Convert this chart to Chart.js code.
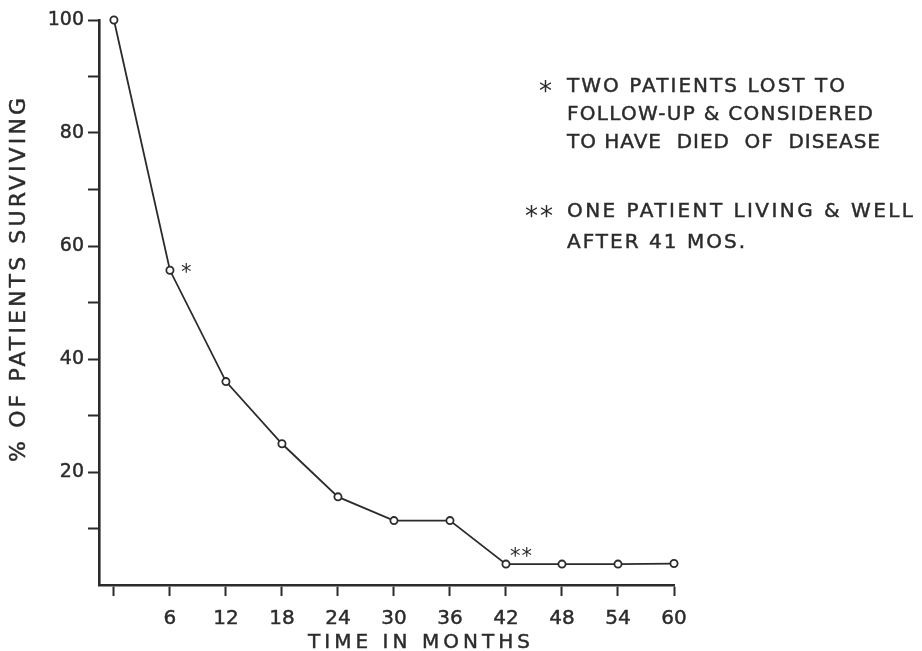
<!DOCTYPE html>
<html lang="en">
<head>
  <meta charset="UTF-8">
  <script src="https://cdn.jsdelivr.net/npm/chart.js"></script>
  <title>Survival</title>
  <style>
    body{margin: 0; background: #fff;}
    #wrap{width: 922px; height: 651px;}
  </style>
</head>
<body>
  <div id="wrap">
    <canvas id="myChart" width="922" height="651"></canvas>
  </div>
  <script>
    // data
    const months = [0, 6, 12, 18, 24, 30, 36, 42, 48, 54, 60];
    const surviving = [100, 55.7, 36, 25, 15.6, 11.4, 11.4, 3.7, 3.7, 3.7, 3.8];
    const xTicks = [0, 6, 12, 18, 24, 30, 36, 42, 48, 54, 60];
    const xLabelled = [6, 12, 18, 24, 30, 36, 42, 48, 54, 60];
    const yTicks = [10, 20, 30, 40, 50, 60, 70, 80, 90, 100];
    const yLabelled = [20, 40, 60, 80, 100];
    const xTitle = "TIME IN MONTHS";
    const yTitle = "% OF PATIENTS SURVIVING";
    const note1 = ["TWO PATIENTS LOST TO", "FOLLOW-UP & CONSIDERED", "TO HAVE  DIED  OF  DISEASE"];
    const note2 = ["ONE PATIENT LIVING & WELL", "AFTER 41 MOS."];

    const ink = "#2b2b2b";
    const font = "'DejaVu Sans', sans-serif";

    // text spread out to a given width, like the stencil lettering
    function spaced(ctx, str, x, y, w, stroke){
      ctx.letterSpacing = "0px";
      const m = ctx.measureText(str).width;
      const ls = (w - m) / (str.length - 1);
      ctx.letterSpacing = ls + "px";
      ctx.fillText(str, x, y);
      if(stroke !== false) ctx.strokeText(str, x, y);
      ctx.letterSpacing = "0px";
    }

    const lettering = {
      id: "lettering",
      afterDraw(chart){
        const ctx = chart.ctx;
        const xs = chart.scales.x, ys = chart.scales.y;
        ctx.save();
        ctx.fillStyle = ink;
        ctx.strokeStyle = ink;
        ctx.lineWidth = 0.45;
        ctx.textAlign = "left";
        ctx.textBaseline = "alphabetic";

        // axis titles
        ctx.font = "20px " + font;
        spaced(ctx, xTitle, 308, 648, 222);
        ctx.save();
        ctx.translate(25, 280);
        ctx.rotate(-Math.PI / 2);
        ctx.font = "22px " + font;
        spaced(ctx, yTitle, -182, 0, 364);
        ctx.restore();

        // notes
        ctx.font = "20px " + font;
        spaced(ctx, note1[0], 567, 92, 278);
        spaced(ctx, note1[1], 567, 120, 306);
        spaced(ctx, note1[2], 567, 148, 313);
        spaced(ctx, note2[0], 567, 217, 346);
        spaced(ctx, note2[1], 567, 248, 178);
        ctx.font = "26px " + font;
        ctx.fillText("*", 539, 100);
        spaced(ctx, "**", 525, 225, 28, false);

        // marks next to the points
        ctx.font = "21px " + font;
        const p1x = xs.getPixelForValue(months[1]), p1y = ys.getPixelForValue(surviving[1]);
        ctx.fillText("*", p1x + 11, p1y + 9);
        const p7x = xs.getPixelForValue(months[7]), p7y = ys.getPixelForValue(surviving[7]);
        spaced(ctx, "**", p7x + 4, p7y - 1, 22, false);
        ctx.restore();
      }
    };

    const ctx = document.getElementById("myChart");
    new Chart(ctx, {
      type: "line",
      data: {
        datasets: [{
          data: months.map((m, i) => ({x: m, y: surviving[i]})),
          borderColor: ink,
          borderWidth: 1.8,
          tension: 0,
          pointRadius: 3.6,
          pointBorderWidth: 1.8,
          pointBorderColor: ink,
          pointBackgroundColor: "#fff",
          clip: false
        }]
      },
      options: {
        responsive: false,
        animation: false,
        layout: {padding: {left: 0, top: 20, right: 248, bottom: 0}},
        plugins: {legend: {display: false}, tooltip: {enabled: false}},
        scales: {
          x: {
            type: "linear",
            min: -1.6,
            max: 60,
            afterBuildTicks(scale){ scale.ticks = xTicks.map(v => ({value: v})); },
            afterFit(scale){ scale.height = 66; },
            grid: {drawOnChartArea: false, tickLength: 11, tickWidth: 2, tickColor: ink},
            border: {display: true, color: ink, width: 2.6},
            ticks: {
              color: ink,
              textStrokeColor: ink,
              textStrokeWidth: 0.45,
              font: {family: font, size: 20},
              padding: 11,
              maxRotation: 0,
              autoSkip: false,
              callback: v => xLabelled.includes(v) ? String(v) : ""
            }
          },
          y: {
            min: 0,
            max: 100,
            afterBuildTicks(scale){ scale.ticks = yTicks.map(v => ({value: v})); },
            afterFit(scale){ scale.width = 99; },
            grid: {drawOnChartArea: false, tickLength: 11, tickWidth: 2, tickColor: ink},
            border: {display: true, color: ink, width: 2.6},
            ticks: {
              color: ink,
              textStrokeColor: ink,
              textStrokeWidth: 0.45,
              font: {family: font, size: 19, lineHeight: 1},
              padding: 4,
              autoSkip: false,
              callback: v => yLabelled.includes(v) ? String(v) : ""
            }
          }
        }
      },
      plugins: [lettering]
    });
  </script>
</body>
</html>
